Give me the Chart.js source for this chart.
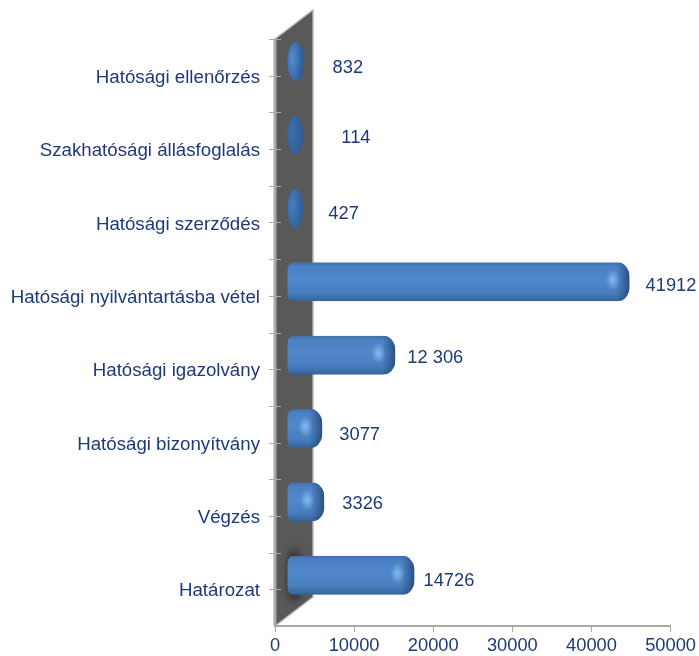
<!DOCTYPE html>
<html>
<head>
<meta charset="utf-8">
<style>
    html, body { margin: 0; padding: 0; background: #fff; }
    canvas { display: block; filter: blur(0.35px); }
</style>
<script src="https://cdn.jsdelivr.net/npm/chart.js@4/dist/chart.umd.min.js"></script>
</head>
<body>
<canvas id="js--chart" width="699" height="656"></canvas>
<script>
const categories = ['Hatósági ellenőrzés', 'Szakhatósági állásfoglalás', 'Hatósági szerződés', 'Hatósági nyilvántartásba vétel',
    'Hatósági igazolvány', 'Hatósági bizonyítvány', 'Végzés', 'Határozat'];
const values = [832, 114, 427, 41912, 12306, 3077, 3326, 14726];
const valueLabels = ['832', '114', '427', '41912', '12 306', '3077', '3326', '14726'];
const xTicks = [0, 10000, 20000, 30000, 40000, 50000];

// the value labels were dragged by hand in the original, so every one has its own gap
const labelGaps = [28, 38, 25, 16, 12, 17, 18, 9];
const labelRise = [8, 11, 8, 10, 11, 8, 12, 8];

const textColor = '#1f3a78';
const axisColor = '#a9a9a9';
const fontFamily = '"Liberation Sans", Arial, sans-serif';

// 3d look: the wall leans back, bars sit in the middle of it
const wallDepth = 38, wallRise = 29;
const barShiftX = 23, barShiftY = -14;
const minBarWidth = 16;

function barPath(c, x0, x1, top, bottom) {
    const w = x1 - x0, h = bottom - top;
    if (w < 22) {
        c.beginPath();
        c.ellipse((x0 + x1) / 2, (top + bottom) / 2, w / 2, h / 2, 0, 0, Math.PI * 2);
        return;
    }
    const rx = 12, ry = 15, lx = 5, ly = 9;
    c.beginPath();
    c.moveTo(x0 + lx, top);
    c.lineTo(x1 - rx, top);
    c.ellipse(x1 - rx, top + ry, rx, ry, 0, -Math.PI / 2, 0);
    c.lineTo(x1, bottom - ry);
    c.ellipse(x1 - rx, bottom - ry, rx, ry, 0, 0, Math.PI / 2);
    c.lineTo(x0 + lx, bottom);
    c.ellipse(x0 + lx, bottom - ly, lx, ly, 0, Math.PI / 2, Math.PI);
    c.lineTo(x0, top + ly);
    c.ellipse(x0 + lx, top + ly, lx, ly, 0, Math.PI, Math.PI * 1.5);
    c.closePath();
}

const wallPlugin = {
    id: 'wall',
    beforeDatasetsDraw(chart) {
        const c = chart.ctx, area = chart.chartArea, y = chart.scales.y;
        c.save();
        // back wall
        c.beginPath();
        c.moveTo(area.left, area.top);
        c.lineTo(area.left + wallDepth, area.top - wallRise);
        c.lineTo(area.left + wallDepth, area.bottom - wallRise);
        c.lineTo(area.left, area.bottom);
        c.closePath();
        c.fillStyle = '#595959';
        c.fill();
        c.strokeStyle = '#b5b5b5';
        c.lineWidth = 1.5;
        c.stroke();

        // axis line and ticks, also one in the middle of each category
        c.strokeStyle = axisColor;
        c.lineWidth = 3;
        c.beginPath();
        c.moveTo(area.left, area.top);
        c.lineTo(area.left, area.bottom);
        c.stroke();
        c.lineWidth = 1;
        const step = (area.bottom - area.top) / categories.length / 2;
        c.beginPath();
        for (let i = 0; i < categories.length; i++) {
            const mid = y.getPixelForValue(i);
            [mid - step, mid].forEach(p => {
                c.moveTo(area.left - 6, Math.round(p) + 0.5);
                c.lineTo(area.left + 6, Math.round(p) + 0.5);
            });
        }
        c.stroke();
        c.restore();
    }
};

const barPlugin = {
    id: 'roundBars',
    beforeDatasetDraw(chart, args) {
        const c = chart.ctx;
        args.meta.data.forEach((bar, i) => {
            const x0 = bar.base + barShiftX;
            const x1 = Math.max(bar.x + barShiftX, x0 + minBarWidth);
            const top = bar.y + barShiftY - bar.height / 2;
            const bottom = bar.y + barShiftY + bar.height / 2;
            const mid = (top + bottom) / 2;
            const small = x1 - x0 < 22;

            c.save();
            if (i === categories.length - 1) {
                // dark smudge on the wall behind the first bar
                c.save();
                c.filter = 'blur(4px)';
                c.fillStyle = 'rgba(20,20,20,0.8)';
                c.beginPath();
                c.ellipse(x0 + 7, mid, 6, 26, 0, 0, Math.PI * 2);
                c.fill();
                c.restore();
            }
            barPath(c, x0, x1, top, bottom);
            c.clip();

            if (small) {
                // tiny bars are only the round cap: a lit lens, brighter the longer the bar
                c.fillStyle = '#2f5e97';
                c.fillRect(x0, top, x1 - x0, bottom - top);
                c.save();
                c.translate(x0 + 5, mid - 3);
                c.scale(1, 3);
                const lens = c.createRadialGradient(0, 0, 0, 0, 0, 10);
                const a = Math.min(1, 0.25 + values[i] / 1000);
                lens.addColorStop(0, 'rgba(85,140,210,' + a + ')');
                lens.addColorStop(1, 'rgba(85,140,210,0)');
                c.fillStyle = lens;
                c.fillRect(-10, -10, 20, 20);
                c.restore();
            } else {
                const body = c.createLinearGradient(0, top, 0, bottom);
                body.addColorStop(0, '#416fa8');
                body.addColorStop(0.12, '#4c82c4');
                body.addColorStop(0.45, '#5088cc');
                body.addColorStop(0.78, '#487ebd');
                body.addColorStop(1, '#346398');
                c.fillStyle = body;
                c.fillRect(x0, top, x1 - x0, bottom - top);

                // dark rim on the right end
                const rim = c.createLinearGradient(x1 - 13, 0, x1, 0);
                rim.addColorStop(0, 'rgba(34,64,108,0)');
                rim.addColorStop(0.6, 'rgba(34,64,108,0.45)');
                rim.addColorStop(1, 'rgba(34,64,108,0.8)');
                c.fillStyle = rim;
                c.fillRect(x1 - 13, top, 13, bottom - top);

                // light spot near the end
                c.translate(x1 - 17, mid - 2);
                c.scale(1, 1.5);
                const spot = c.createRadialGradient(0, 0, 0, 0, 0, 7);
                spot.addColorStop(0, 'rgba(140,195,245,0.85)');
                spot.addColorStop(1, 'rgba(140,195,245,0)');
                c.fillStyle = spot;
                c.fillRect(-7, -7, 14, 14);
            }
            c.restore();
        });
        return false; // bars are done, no flat ones from the library
    },
    afterDatasetsDraw(chart) {
        const c = chart.ctx;
        const bars = chart.getDatasetMeta(0).data;
        c.save();
        c.fillStyle = textColor;
        c.font = '18.3px ' + fontFamily;
        c.textBaseline = 'middle';
        bars.forEach((bar, i) => {
            const x0 = bar.base + barShiftX;
            const x1 = Math.max(bar.x + barShiftX, x0 + minBarWidth);
            c.fillText(valueLabels[i], x1 + labelGaps[i], bar.y - labelRise[i]);
        });
        c.restore();
    }
};

new Chart(document.getElementById('js--chart'), {
    type: 'bar',
    data: {
        labels: categories,
        datasets: [{
            data: values,
            base: -1350,
            barThickness: 39,
            backgroundColor: '#4a80c2'
        }]
    },
    plugins: [wallPlugin, barPlugin],
    options: {
        indexAxis: 'y',
        responsive: false,
        animation: false,
        layout: { padding: { top: 39, right: 27, bottom: 0, left: 0 } },
        plugins: {
            legend: { display: false },
            tooltip: { enabled: false }
        },
        scales: {
            x: {
                min: 0,
                max: 50000,
                afterFit(scale) { scale.height = 30; },
                afterBuildTicks(scale) { scale.ticks = xTicks.map(v => ({ value: v })); },
                grid: { drawOnChartArea: false, color: axisColor, tickLength: 6 },
                border: { color: axisColor, width: 2 },
                ticks: {
                    color: textColor,
                    padding: 3,
                    maxRotation: 0,
                    callback: v => String(v),
                    font: { family: fontFamily, size: 18.3 }
                }
            },
            y: {
                afterFit(scale) { scale.width = 275; },
                grid: { display: false },
                border: { display: false },
                ticks: {
                    color: textColor,
                    padding: 7,
                    autoSkip: false,
                    labelOffset: 2,
                    font: { family: fontFamily, size: 18.7 }
                }
            }
        }
    }
});
</script>
</body>
</html>
